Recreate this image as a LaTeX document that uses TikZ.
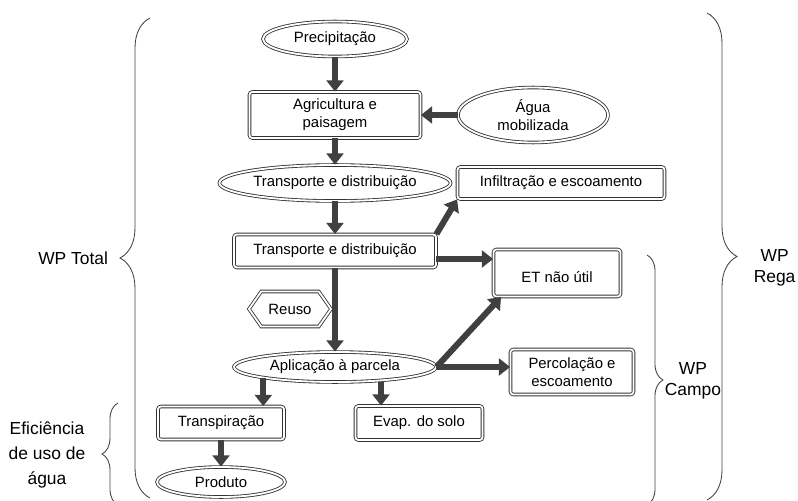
\documentclass[tikz,border=0pt]{standalone}
\usepackage{fontspec}
\setmainfont{Liberation Sans}
\usetikzlibrary{shapes.geometric, shapes.symbols, arrows.meta, decorations.pathreplacing}
\tikzstyle{oval} = [ellipse, 
inner sep=0pt, 
text centered, 
align=center, 
draw=black!80, 
line width=0.6pt, 
double, 
double distance=1.3pt, 
fill=white]
\tikzstyle{box} = [rectangle, rounded corners=2pt, 
inner sep=0pt, 
text centered, 
align=center, 
draw=black!80, 
line width=0.6pt, 
double, 
double distance=1.3pt, 
fill=white]
\tikzstyle{hexa} = [signal, 
signal to=west and east, 
signal pointer angle=110, 
inner sep=0pt, 
draw=black!80, 
line width=0.6pt, 
double, 
double distance=1.3pt, 
fill=white]
\tikzstyle{side} = [font=\fontsize{12.4}{15}\selectfont, align=center]
\tikzstyle{bigbrace} = [decorate, decoration={brace, amplitude=0.75cm}, draw=black!75, line width=0.6pt]
\tikzstyle{smallbrace} = [decorate, decoration={brace, amplitude=0.4cm}, draw=black!75, line width=0.6pt]
\tikzstyle{arrow} = [line width=4.3pt, draw=black!75, -{Triangle[width=12pt,length=8pt]}]

\begin{document}
\begin{tikzpicture}[node distance=1.7cm, font=\fontsize{10.6}{13}\selectfont]

    \useasboundingbox (-8.375,0.975) rectangle (11.575,-11.525);

    \node (prec) [oval, minimum width=3.6cm, minimum height=0.875cm] {Precipitação};
    \node (agri) [box, below of=prec, yshift=-0.2cm, minimum width=4.275cm, minimum height=1.15cm] {Agricultura e\\paisagem};
    \node (agua) [oval, right of=agri, xshift=3.25cm, minimum width=3.75cm, minimum height=1.375cm] {Água\\mobilizada};

    \node (transell) [oval, below of=agri, minimum width=5.1cm, minimum height=0.9cm] {Transporte e distribuição};
    \node (infil) [box, right of=transell, xshift=3.95cm, minimum width=5.175cm, minimum height=0.8cm] {Infiltração e escoamento};

    \node (transbox) [box, below of=transell, minimum width=5.05cm, minimum height=0.825cm] {Transporte e distribuição};
    \node (etnu) [box, right of=transbox, xshift=3.85cm, yshift=-0.55cm, minimum width=3.175cm, minimum height=1.175cm] {\mbox{}\\ET não útil};
    \node (reuso) [hexa, below of=transbox, xshift=-1.125cm, yshift=0.25cm, minimum width=2.05cm, minimum height=0.875cm] {Reuso};

    \node (aplic) [oval, below of=transbox, yshift=-1.2cm, minimum width=5.05cm, minimum height=0.75cm] {Aplicação à parcela};
    \node (perc) [box, right of=aplic, xshift=4.225cm, yshift=-0.125cm, minimum width=3.075cm, minimum height=1.125cm] {Percolação e\\escoamento};

    \node (transp) [box, below of=aplic, xshift=-2.85cm, yshift=0.3cm, minimum width=3.15cm, minimum height=0.825cm] {Transpiração};
    \node (evap) [box, below of=aplic, xshift=2.1cm, yshift=0.3cm, minimum width=3.175cm, minimum height=0.85cm] {Evap. do solo};
    \node (produto) [oval, below of=transp, yshift=0.225cm, minimum width=3.2cm, minimum height=0.75cm] {Produto};

    % side labels
    \node (wptotal) [side, anchor=east] at (-5.55,-5.475) {WP Total};
    \node (efic) [side, font=\fontsize{12.4}{17.5}\selectfont] at (-7.2,-10.4) {Eficiência\\de uso de\\água};
    \node (wprega) [side] at (10.99,-5.725) {WP\\Rega};
    \node (wpcampo) [side] at (8.95,-8.55) {WP\\Campo};

    \coordinate (totB) at (-4.625,-11.475);
    \coordinate (totT) at (-4.625,0.525);
    \coordinate (effB) at (-5.425,-11.65);
    \coordinate (effT) at (-5.425,-9.1);
    \coordinate (regT) at (9.3,0.65);
    \coordinate (regB) at (9.3,-11.525);
    \coordinate (camT) at (7.8,-5.4);
    \coordinate (camB) at (7.8,-11.65);

    \draw [bigbrace] (totB) -- (totT);
    \draw [smallbrace] (effB) -- (effT);
    \draw [bigbrace] (regT) -- (regB);
    \draw [smallbrace] (camT) -- (camB);

    \draw [arrow] (prec) -- (agri);
    \draw [arrow] (agua) -- (agri);
    \draw [arrow] (agri) -- (transell);
    \draw [arrow] (transell) -- (transbox);
    \draw [arrow] (transbox.north east) -- (infil.south west);
    \draw [arrow] ([yshift=-0.2cm]transbox.east) -- ([yshift=-0.2cm]transbox.east -| etnu.west);
    \draw [arrow] (transbox) -- (aplic);
    \draw [arrow] (aplic.east) -- ([xshift=0.2cm]etnu.south west);
    \draw [arrow] (aplic.east) -- (aplic.east -| perc.west);
    \draw [arrow] (aplic.south west) -- (aplic.south west |- transp.north);
    \draw [arrow] ([xshift=1.15cm]aplic.south) -- ([xshift=1.15cm]aplic.south |- evap.north);
    \draw [arrow] (transp) -- (produto);

  \end{tikzpicture}
\end{document}
